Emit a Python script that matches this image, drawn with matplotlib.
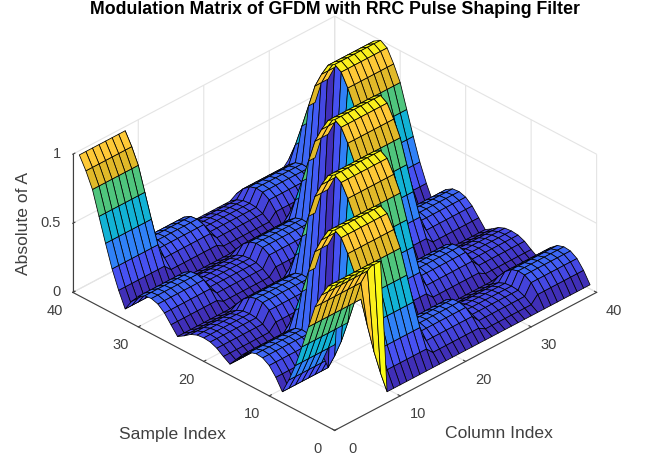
import numpy as np
import matplotlib
matplotlib.use("Agg")
import matplotlib.pyplot as plt
from matplotlib.colors import LinearSegmentedColormap
from matplotlib.text import Text

# Data
sample_index = list(range(1, 41))
column_index = list(range(1, 41))
# |A| against circular distance from the pulse centre (0..39 samples)
pulse_profile = [1.00, 0.97, 0.88, 0.77, 0.60, 0.43, 0.27, 0.14,
                 0.03, 0.11, 0.17, 0.20, 0.205, 0.19, 0.15, 0.09,
                 0.03, 0.06, 0.095, 0.115, 0.12, 0.115, 0.095, 0.06,
                 0.03, 0.09, 0.15, 0.19, 0.205, 0.20, 0.17, 0.11,
                 0.03, 0.14, 0.27, 0.43, 0.60, 0.77, 0.88, 0.97]
# First sample of the pulse for each group of columns
column_groups = [0, 0, 0, 0, 0, 0, 0, 0, 1, 1, 1, 1, 1, 1, 1, 1,
                 2, 2, 2, 2, 2, 2, 2, 2, 3, 3, 3, 3, 3, 3, 3, 3,
                 4, 4, 4, 4, 4, 4, 4, 4]
group_shift = [0, 8, 16, 24, 32]
x_ticks = [0, 10, 20, 30, 40]
y_ticks = [0, 10, 20, 30, 40]
z_ticks = [0, 0.5, 1]
z_ticklabels = ["0", "0.5", "1"]

plt.rcParams["font.family"] = ["Liberation Sans", "DejaVu Sans"]
plt.rcParams["font.size"] = 10.5
plt.rcParams["grid.color"] = "#e4e4e4"
plt.rcParams["grid.linewidth"] = 0.8
plt.rcParams["axes.linewidth"] = 0.7

parula = LinearSegmentedColormap.from_list("parula", [
    (0.000, (0.242, 0.150, 0.660)),
    (0.143, (0.281, 0.323, 0.958)),
    (0.286, (0.179, 0.529, 0.968)),
    (0.429, (0.069, 0.695, 0.839)),
    (0.586, (0.260, 0.775, 0.530)),
    (0.690, (0.640, 0.760, 0.230)),
    (0.770, (0.880, 0.725, 0.160)),
    (0.880, (0.995, 0.785, 0.220)),
    (1.000, (0.977, 0.984, 0.080)),
])

profile = np.array(pulse_profile)
shifts = np.array(group_shift)[np.array(column_groups)]
S, C = np.meshgrid(np.array(sample_index), np.array(column_index), indexing="ij")
Z = profile[(S[:, :] - 1 - shifts[C - 1]) % 40]

fig = plt.figure(figsize=(6.49, 4.59), dpi=100)
ax = fig.add_axes([4 / 649, 0, 1, 1], projection="3d")
ax.set_proj_type("ortho")
ax.view_init(elev=31.8, azim=-135)
ax.set_box_aspect((368, 368, 161.5), zoom=1.16)

surf = ax.plot_surface(C, S, Z, rstride=1, cstride=1, facecolors=parula(Z), shade=False,
                       edgecolor="black", linewidth=0.55, antialiased=True)
surf.set_clip_on(False)

ax.set_xlim(0, 40)
ax.set_ylim(0, 40)
ax.set_zlim(0, 1)
ax.set_xticks(x_ticks)
ax.set_yticks(y_ticks)
ax.set_zticks(z_ticks)
ax.set_zticklabels(z_ticklabels)

for axis in (ax.xaxis, ax.yaxis, ax.zaxis):
    axis.set_pane_color((1, 1, 1, 0))
    axis.pane.set_edgecolor((1, 1, 1, 0))
    axis.line.set_color("#404040")
    axis.line.set_linewidth(0.8)
    axis._axinfo["tick"]["inward_factor"] = 0.0
    axis._axinfo["tick"]["outward_factor"] = 0.10
    axis._axinfo["tick"]["color"] = "#404040"
    axis.set_tick_params(colors="#404040", labelsize=10.5, width=0.7)
    axis.set_rotate_label(False)

ax.zaxis.set_tick_params(pad=-4)
for t in ax.zaxis.get_ticklabels():
    t.set_ha("right")
    t.set_va("center")
for t in ax.xaxis.get_ticklabels():
    t.set_va("center")
for t in ax.yaxis.get_ticklabels():
    t.set_va("center")

ax.set_xlabel("Column Index", fontsize=12.6, color="#404040")
ax.set_ylabel("Sample Index", fontsize=12.6, color="#404040")
ax.set_zlabel("Absolute of A", fontsize=12.6, color="#404040", rotation=90)


def pin_label(label, px, py):
    """Hold an axis label at a pixel position measured on the reference."""
    label.set_position = lambda xy: Text.set_position(
        label, ax.transData.inverted().transform((px, 459 - py)))


pin_label(ax.xaxis.label, 499, 434)
pin_label(ax.yaxis.label, 172, 434)
pin_label(ax.zaxis.label, 23, 224)

ax.set_title("Modulation Matrix of GFDM with RRC Pulse Shaping Filter",
             fontsize=12.75, fontweight="bold", x=0.514, y=1.034)

fig.savefig("out.png", dpi=100)
